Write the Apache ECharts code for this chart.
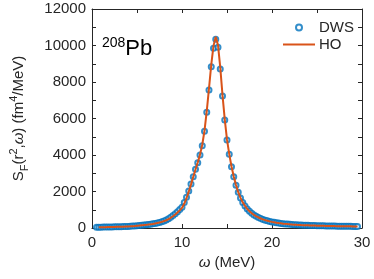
<!DOCTYPE html>
<html>
<head>
<meta charset="utf-8">
<script src="https://cdn.jsdelivr.net/npm/echarts@6/dist/echarts.min.js"></script>
<style>
html,body{margin:0;padding:0;background:#fff;}
#chart{width:374px;height:279px;}
</style>
</head>
<body>
<div id="chart"></div>
<script>
// omega grid (MeV)
var omega = [
 0.5,0.75,1,1.25,1.5,1.75,2,2.25,2.5,2.75,
 3,3.25,3.5,3.75,4,4.25,4.5,4.75,5,5.25,
 5.5,5.75,6,6.25,6.5,6.75,7,7.25,7.5,7.75,
 8,8.25,8.5,8.75,9,9.25,9.5,9.75,10,10.25,
 10.5,10.75,11,11.25,11.5,11.75,12,12.25,12.5,12.75,
 13,13.25,13.5,13.75,14,14.25,14.5,14.75,15,15.25,
 15.5,15.75,16,16.25,16.5,16.75,17,17.25,17.5,17.75,
 18,18.25,18.5,18.75,19,19.25,19.5,19.75,20,20.25,
 20.5,20.75,21,21.25,21.5,21.75,22,22.25,22.5,22.75,
 23,23.25,23.5,23.75,24,24.25,24.5,24.75,25,25.25,
 25.5,25.75,26,26.25,26.5,26.75,27,27.25,27.5,27.75,
 28,28.25,28.5,28.75,29,29.25,29.5
];
// DWS strength (fm^4/MeV)
var dws = [
 40,42,45,48,51,54,57,60,63,67,
 71,75,79,84,89,96,104,116,130,140,
 151,163,176,192,210,229,250,277,307,345,
 390,445,510,590,680,780,890,1010,1140,1400,
 1682,2027,2411,2811,3216,3578,4000,4510,5299,6340,
 7562,8839,9848,10341,9903,8713,7231,5918,4822,4039,
 3359,2811,2340,1956,1644,1400,1205,1045,915,805,
 715,640,575,520,472,430,394,362,334,310,
 289,270,253,238,225,213,202,192,183,175,
 168,161,155,149,144,139,135,131,127,123,
 120,117,114,111,108,106,103,101,99,97,
 95,93,91,90,88,87,85
];
// HO strength (fm^4/MeV)
var ho = [
 null,38,41,44,47,50,53,56,59,63,
 67,71,75,80,85,91,99,110,123,134,
 146,158,171,187,205,224,245,270,300,335,
 375,425,485,560,645,740,845,965,1100,1340,
 1630,1990,2390,2800,3210,3590,4020,4560,5330,6400,
 7650,8950,9980,10480,10020,8800,7280,5950,4840,4050,
 3370,2820,2350,1965,1650,1405,1210,1048,918,808,
 718,642,577,522,474,432,395,363,335,311,
 290,271,254,239,226,214,203,193,184,176,
 169,162,156,150,145,140,136,132,128,124,
 121,118,115,112,109,107,104,102,100,98,
 96,94,92,91,89,88,86
];
var xLabelTicks = [0, 10, 20, 30];
var yLabelTicks = [0, 2000, 4000, 6000, 8000, 10000, 12000];

var FONT = 'Liberation Sans, Arial, Helvetica, sans-serif';
var TXT = '#262626';
var AX = '#262626';

function pairs(xs, ys){ return xs.map(function(x,i){ return [x, ys[i]]; }); }

var chart = echarts.init(document.getElementById('chart'), null, {renderer:'canvas'});
var axisCommon = {
  axisLine:{show:true, onZero:false, lineStyle:{color:AX, width:1}},
  axisTick:{show:true, inside:true, length:4, lineStyle:{color:AX, width:1}},
  splitLine:{show:false}
};
chart.setOption({
  animation:false,
  backgroundColor:'#fff',
  grid:{left:83, right:12, top:9, bottom:51, containLabel:false},
  title:{
    left:97, top:31,
    text:'{s|208}{b|Pb}',
    textStyle:{
      fontWeight:'normal',
      rich:{
        s:{fontFamily:FONT, fontSize:14, fontWeight:'normal', color:'#000', verticalAlign:'top', lineHeight:26},
        b:{fontFamily:FONT, fontSize:22, fontWeight:'normal', color:'#000', lineHeight:26}
      }
    }
  },
  legend:{
    orient:'vertical', left:282, top:19, padding:0,
    itemWidth:32, itemHeight:6, itemGap:0,
    textStyle:{fontFamily:FONT, fontSize:15, color:TXT, lineHeight:17, padding:[0,0,0,-1]},
    data:[
      {name:'DWS'},
      {name:'HO', icon:'line', itemStyle:{color:'#D95319', borderColor:'#D95319', borderWidth:2}}
    ]
  },
  xAxis:[
    Object.assign({}, axisCommon, {
      type:'value', position:'bottom', min:0, max:30, interval:5,
      axisLabel:{fontFamily:FONT, fontSize:15, color:TXT, margin:7,
        formatter:function(v){ return xLabelTicks.indexOf(v) >= 0 ? String(v) : ''; }},
      name:'{it|ω} (MeV)', nameLocation:'middle', nameGap:27,
      nameTextStyle:{fontFamily:FONT, fontSize:15, color:TXT,
        rich:{it:{fontFamily:FONT, fontSize:15, fontStyle:'italic', color:TXT}}}
    }),
    Object.assign({}, axisCommon, {
      type:'value', position:'top', min:0, max:30, interval:5,
      axisLabel:{show:false}
    })
  ],
  yAxis:[
    Object.assign({}, axisCommon, {
      type:'value', position:'left', min:0, max:12000, interval:1000,
      axisLabel:{fontFamily:FONT, fontSize:15, color:TXT, margin:6,
        formatter:function(v){ return yLabelTicks.indexOf(v) >= 0 ? String(v) : ''; }},
      name:'{n|S}{sub|F}{n|(r}{sup|2}{n|,}{it|ω}{n|) (fm}{sup|4}{n|/MeV)}',
      nameLocation:'middle', nameGap:62,
      nameTextStyle:{
        color:TXT,
        rich:{
          n:{fontFamily:FONT, fontSize:15, color:TXT, lineHeight:22},
          it:{fontFamily:FONT, fontSize:15, fontStyle:'italic', color:TXT, lineHeight:22},
          sup:{fontFamily:FONT, fontSize:11, color:TXT, verticalAlign:'top', lineHeight:22},
          sub:{fontFamily:FONT, fontSize:11, color:TXT, verticalAlign:'bottom', lineHeight:22}
        }
      }
    }),
    Object.assign({}, axisCommon, {
      type:'value', position:'right', min:0, max:12000, interval:1000,
      axisLabel:{show:false}
    })
  ],
  series:[
    {
      name:'DWS', type:'scatter', xAxisIndex:0, yAxisIndex:0,
      symbol:'emptyCircle', symbolSize:5,
      itemStyle:{color:'#0072BD', borderColor:'#0072BD', borderWidth:1.4},
      data:pairs(omega, dws), z:2
    },
    {
      name:'HO', type:'line', xAxisIndex:0, yAxisIndex:0,
      showSymbol:false, symbol:'none', connectNulls:false,
      lineStyle:{color:'#D95319', width:2},
      itemStyle:{color:'#D95319'},
      data:pairs(omega, ho), z:3
    }
  ]
});
</script>
</body>
</html>
